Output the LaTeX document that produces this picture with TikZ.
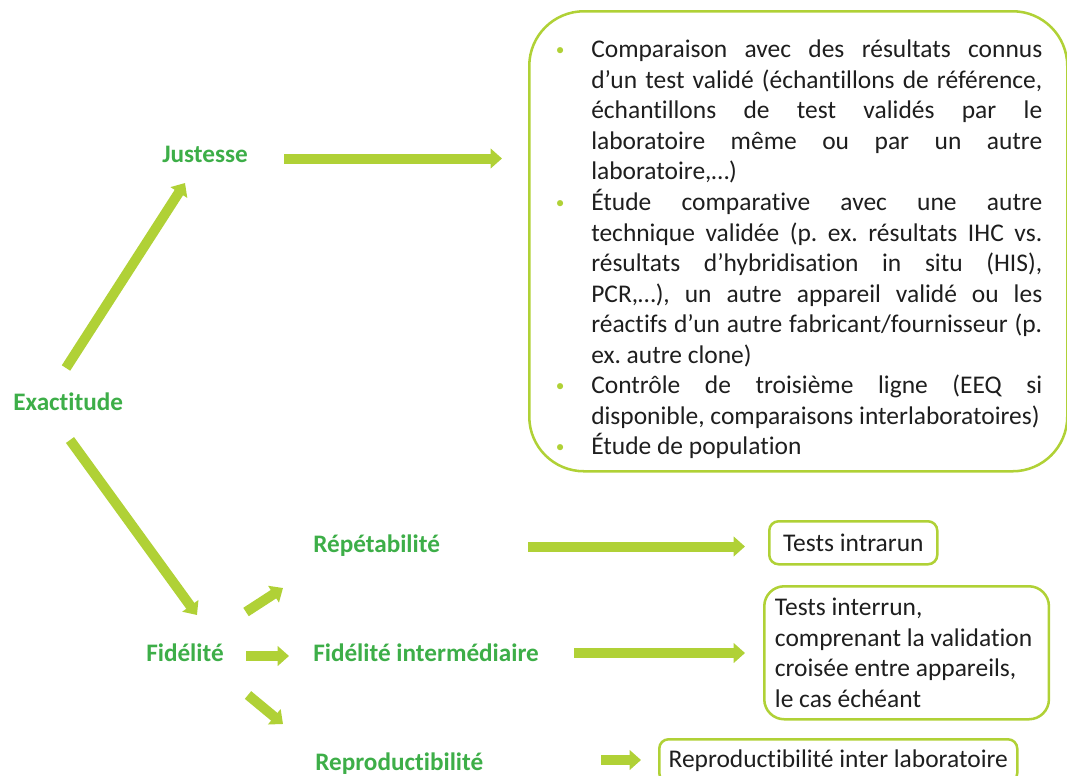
\documentclass[tikz,border=0pt]{standalone}
\usepackage{fontspec}
\setmainfont{Carlito}[Ligatures={TeX,NoCommon}]
\usetikzlibrary{arrows.meta}

\definecolor{lime}{HTML}{B0D136}
\definecolor{leaf}{HTML}{3DAE48}
\definecolor{ink}{HTML}{1E1E1E}

\newcommand{\bodyfont}{\fontsize{19.1pt}{22.9pt}\selectfont\frenchspacing}
\newcommand{\bulletmark}{\makebox[0pt][c]{\textcolor{lime}{\fontsize{13pt}{13pt}\selectfont\raisebox{1.5pt}{•}}}}

\tikzset{
  concept/.style={anchor=base west, inner sep=0pt, text=leaf,
    font=\fontsize{18.9pt}{22.9pt}\selectfont\bfseries},
  flow/.style={draw=lime, line width=7.5pt,
    -{Triangle[width=14.5pt,length=8.5pt]}},
  frame/.style={draw=lime, line width=1.9pt},
  itemtext/.style={inner sep=0pt, text=ink, font=\bodyfont}
}

\begin{document}
\begin{tikzpicture}[x=0.75pt,y=-0.75pt]
\useasboundingbox (0,0) rectangle (1067,775);
\clip (0,0) rectangle (1067,775);

% concept labels
\node[concept] (exact) at (13,410) {Exactitude};
\node[concept] (just)  at (162,162) {Justesse};
\node[concept] (fid)   at (146,661) {Fidélité};
\node[concept] (rep)   at (313,552) {Répétabilité};
\node[concept] (inter) at (313,661) {Fidélité intermédiaire};
\node[concept] (repro) at (315,770) {Reproductibilité};

% methods for trueness
\node[frame, rounded corners=41pt, anchor=north west, inner sep=0pt,
      minimum width=403.5pt, minimum height=345pt] (justbox) at (528,10) {};
\node[itemtext, anchor=north west, text width=369pt, align=justify] (justlist) at (550,27) {%
\hyphenpenalty=10000
\begin{list}{\bulletmark}{\setlength\leftmargin{30.75pt}\setlength\labelsep{23.25pt}%
  \setlength\labelwidth{0pt}\setlength\itemsep{0pt}\setlength\parsep{0pt}%
  \setlength\topsep{0pt}\setlength\partopsep{0pt}\setlength\itemindent{0pt}}
\item Comparaison avec des résultats connus\linebreak
d’un test validé (échantillons de référence,\linebreak
échantillons de test validés par le\linebreak
laboratoire même ou par un autre\linebreak
laboratoire,…)
\item Étude comparative avec une autre\linebreak
technique validée (p. ex. résultats IHC vs.\linebreak
résultats d’hybridisation in situ (HIS),\linebreak
PCR,…), un autre appareil validé ou les\linebreak
réactifs d’un autre fabricant/fournisseur (p.\linebreak
ex. autre clone)
\item Contrôle de troisième ligne (EEQ si\linebreak
disponible, comparaisons interlaboratoires)
\item Étude de population
\end{list}};

% precision outcomes
\node[frame, itemtext, rounded corners=7pt, anchor=north west,
      minimum width=126pt, minimum height=32.25pt] (intra) at (768,520) {Tests intrarun};
\node[frame, itemtext, rounded corners=15pt, anchor=north west, align=flush left,
      text width=197.5pt, inner xsep=8pt, inner ysep=0pt,
      minimum height=99.75pt] (interbox) at (763,585)
  {Tests interrun,\\comprenant la validation\\croisée entre appareils,\\le cas échéant};
\node[frame, itemtext, rounded corners=7pt, anchor=north west,
      minimum width=268.5pt, minimum height=32.25pt] (reprobox) at (658,738)
  {Reproductibilité inter laboratoire};

% arrow end points
\coordinate (exact-up)   at (66,368);
\coordinate (just-in)    at (185,183);
\coordinate (exact-down) at (70,440);
\coordinate (fid-in)     at (197,615);
\coordinate (just-out)   at (284,158.5);
\coordinate (justbox-in) at (502,158.5);
\coordinate (fid-up)     at (246,612);
\coordinate (rep-in)     at (283,588);
\coordinate (fid-mid)    at (246,656);
\coordinate (inter-in)   at (289,656);
\coordinate (fid-down)   at (248,695);
\coordinate (repro-in)   at (283,724);
\coordinate (rep-out)    at (528,546.5);
\coordinate (intra-in)   at (745,546.5);
\coordinate (inter-out)  at (574,653);
\coordinate (interbox-in) at (745,653);
\coordinate (repro-out)  at (601,760);
\coordinate (reprobox-in) at (641,760);

% arrows
\draw[flow] (exact-up) -- (just-in);
\draw[flow] (exact-down) -- (fid-in);
\draw[flow] (just-out) -- (justbox-in);
\draw[flow] (fid-up) -- (rep-in);
\draw[flow] (fid-mid) -- (inter-in);
\draw[flow] (fid-down) -- (repro-in);
\draw[flow] (rep-out) -- (intra-in);
\draw[flow] (inter-out) -- (interbox-in);
\draw[flow] (repro-out) -- (reprobox-in);
\end{tikzpicture}
\end{document}
